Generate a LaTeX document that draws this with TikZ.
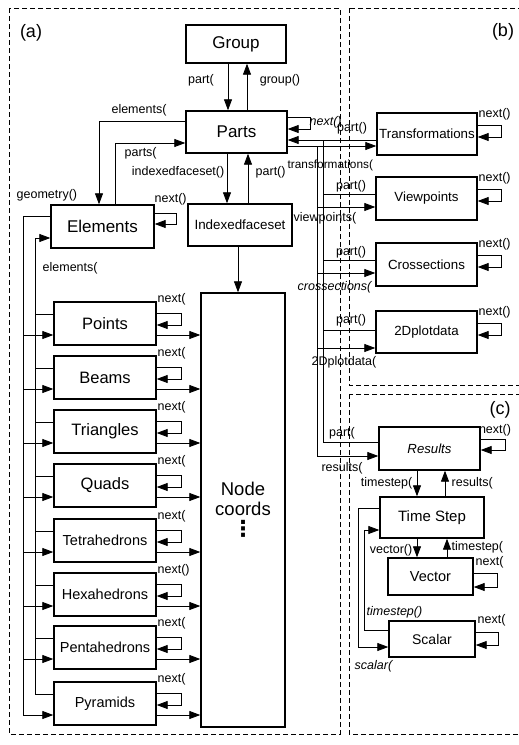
\documentclass[tikz,border=0pt]{standalone}
\usepackage{fontspec}
\setmainfont{Liberation Sans}
\newfontfamily\djv{DejaVu Sans}
\usetikzlibrary{arrows.meta}
\begin{document}
\begin{tikzpicture}[x=1pt,y=-1pt,
  box/.style={draw, line width=1.4pt, inner sep=0pt, align=center},
  ln/.style={line width=0.85pt},
  arr/.style={ln, -{Triangle[length=11pt,width=8pt]}},
  lbl/.style={font=\fontsize{12.5}{13}\selectfont, inner sep=0.5pt},
  ilbl/.style={lbl, font=\fontsize{12.5}{13}\selectfont\itshape},
  frame/.style={dash pattern=on 5pt off 3pt, line width=0.9pt},
  sec/.style={font=\fontsize{18}{18}\selectfont, inner sep=0pt}
]
\useasboundingbox (0,0) rectangle (519,745);
% frames
\draw[frame] (9,8) rectangle (340,734);
\draw[frame] (349,8) rectangle (523,385);
\draw[frame] (349,394) rectangle (523,734);
\node[sec] (la) at (31,33) {(a)};
\node[sec] (lb) at (503,32) {(b)};
\node[sec] (lc) at (500,410) {(c)};

% ---- section (a)
\node[box, minimum width=100pt, minimum height=38pt, font=\fontsize{17}{17}\selectfont] (group) at (236,44) {Group};
\node[box, minimum width=101pt, minimum height=42pt, font=\fontsize{17}{17}\selectfont] (parts) at (236.5,132) {Parts};
\node[box, minimum width=104pt, minimum height=42pt, font=\fontsize{13.4}{14}\selectfont] (idx) at (240,225) {Indexedfaceset};
\node[box, minimum width=103pt, minimum height=43pt, font=\fontsize{17}{17}\selectfont] (elements) at (102.5,226.5) {Elements};
\node[box, minimum width=84pt, minimum height=434pt, font=\fontsize{18.5}{20}\selectfont] (nodec) at (243,510) {Node\\coords\\[1pt]{\djv\bfseries\fontsize{22}{22}\selectfont ⋮}};

\draw[arr] (group.south -| 228,0) -- (parts.north -| 228,0);
\draw[arr] (parts.north -| 247,0) -- (group.south -| 247,0);
\node[lbl] (l-part1) at (201,80) {part(};
\node[lbl] (l-group) at (280,80) {group()};

\draw[arr] (parts.south -| 227,0) -- (idx.north -| 227,0);
\draw[arr] (idx.north -| 248,0) -- (parts.south -| 248,0);
\node[lbl, anchor=east] (l-ifs) at (225,172) {indexedfaceset()};
\node[lbl, anchor=west] (l-part2) at (255,172) {part()};
\draw[arr] (idx.south -| 238,0) -- (nodec.north -| 238,0);

\draw[arr] (parts.west |- 0,121) -| (elements.north -| 99,0);
\node[lbl] (l-elem1) at (139,110) {elements(};
\draw[arr] (elements.north -| 115,0) |- (parts.west |- 0,143);
\node[lbl, anchor=west] (l-parts) at (124,153) {parts(};

\draw[arr] (elements.east |- 0,213) -- ++(22,0) |- (elements.east |- 0,224);
\node[lbl, anchor=west] (l-enext) at (154,199) {next()};
\node[lbl, anchor=west] (l-geom) at (16,195) {geometry()};
\node[lbl, anchor=west] (l-elem2) at (42,268) {elements(};

% buses on the left
\draw[ln] (elements.west |- 0,216) -| (23,715);
\draw[arr] (35,694) |- (elements.west |- 0,238);

\foreach \nm/\tx/\ty/\lab/\fs in {
  points/Points/302/{next(}/16.5,
  beams/Beams/356/{next(}/16.5,
  triangles/Triangles/410/{next(}/16.5,
  quads/Quads/464/{next(}/16.5,
  tetra/Tetrahedrons/519/{next(}/14.5,
  hexa/Hexahedrons/573/{next()}/14.5,
  penta/Pentahedrons/626/{next(}/14.5,
  pyra/Pyramids/682/{next(}/14.5}{
  \node[box, minimum width=102pt, minimum height=43pt, font=\fontsize{\fs}{\fs}\selectfont] (\nm) at (105,\ty+21.5) {\tx};
  \draw[arr] (\nm.east |- 0,\ty+11) -- ++(25,0) |- (\nm.east |- 0,\ty+23);
  \node[lbl, anchor=west] (\nm-next) at (157,\ty-3) {\lab};
  \draw[arr] (\nm.east |- 0,\ty+33) -- (nodec.west |- 0,\ty+33);
  \draw[arr] (23,\ty+33) -- (\nm.west |- 0,\ty+33);
  \draw[ln] (\nm.west |- 0,\ty+12) -- (35,\ty+12);
}

% ---- section (b)
\node[box, minimum width=100pt, minimum height=42pt, font=\fontsize{13.3}{14}\selectfont] (trans) at (427,134) {Transformations};
\node[box, minimum width=101pt, minimum height=43pt, font=\fontsize{13.3}{14}\selectfont] (vp) at (426.5,198.5) {Viewpoints};
\node[box, minimum width=101pt, minimum height=43pt, font=\fontsize{13.3}{14}\selectfont] (cross) at (426.5,264.5) {Crossections};
\node[box, minimum width=101pt, minimum height=42pt, font=\fontsize{13.3}{14}\selectfont] (plot) at (426.5,332) {2Dplotdata};

\draw[arr] (parts.east |- 0,117) -- ++(23,0) |- (parts.east |- 0,129);
\node[lbl, anchor=west, font=\fontsize{12.5}{13}\selectfont\itshape] (l-pnext) at (309,122) {next()};
\draw[arr] (trans.west |- 0,140) -- (parts.east |- 0,140);
\draw[arr] (parts.east |- 0,146) -- (trans.west |- 0,146);
\draw[ln] (317,146) -- (317,456);
\draw[ln] (323,140) -- (323,442);
\node[lbl] (l-tpart) at (352,128) {part()};
\node[lbl, anchor=west, font=\fontsize{11.8}{12}\selectfont] (l-trans) at (287,165) {transformations(};

\draw[ln] (vp.west |- 0,194) -- (323,194);
\draw[arr] (317,207) -- (vp.west |- 0,207);
\node[lbl] (l-vpart) at (351,186) {part()};
\node[lbl, anchor=west] (l-vp) at (293,218) {viewpoints(};

\draw[ln] (cross.west |- 0,260) -- (323,260);
\draw[arr] (317,273) -- (cross.west |- 0,273);
\node[lbl] (l-cpart) at (351,252) {part()};
\node[ilbl, anchor=west] (l-cross) at (297,287) {crossections(};

\draw[ln] (plot.west |- 0,330) -- (323,330);
\draw[arr] (317,348) -- (plot.west |- 0,348);
\node[lbl] (l-dpart) at (351,320) {part()};
\node[lbl, anchor=west] (l-plot) at (311,362) {2Dplotdata(};

\foreach \nm/\ty in {trans/113, vp/177, cross/243, plot/311}{
  \draw[arr] (\nm.east |- 0,\ty+12) -- ++(24,0) |- (\nm.east |- 0,\ty+24);
  \node[lbl, anchor=west] (\nm-next) at (478,\ty+1) {next()};
}

% ---- section (c)
\node[box, minimum width=101pt, minimum height=43pt, font=\fontsize{13.2}{14}\selectfont\itshape] (results) at (429.5,448.5) {Results};
\node[box, minimum width=104pt, minimum height=41pt, font=\fontsize{15}{15}\selectfont] (ts) at (432,517.5) {Time Step};
\node[box, minimum width=85pt, minimum height=37pt, font=\fontsize{14.5}{15}\selectfont] (vec) at (430.5,576.5) {Vector};
\node[box, minimum width=86pt, minimum height=36pt, font=\fontsize{14}{15}\selectfont] (sc) at (432,639) {Scalar};

\draw[ln] (results.west |- 0,442) -- (323,442);
\draw[arr] (317,456) -- (results.west |- 0,456);
\node[lbl] (l-rpart) at (342,433) {part(};
\node[lbl] (l-res) at (342,468) {results(};

\draw[arr] (results.east |- 0,439) -- ++(25,0) |- (results.east |- 0,450);
\node[lbl] (l-rnext) at (495,430) {next()};

\draw[arr] (results.south -| 417,0) -- (ts.north -| 417,0);
\draw[arr] (ts.north -| 445,0) -- (results.south -| 445,0);
\node[lbl, anchor=east] (l-ts1) at (413,483) {timestep(};
\node[lbl, anchor=west] (l-res2) at (451,483) {results(};

\draw[arr] (ts.south -| 417,0) -- (vec.north -| 417,0);
\draw[arr] (vec.north -| 447,0) -- (ts.south -| 447,0);
\node[lbl, anchor=east] (l-vec) at (413,550) {vector()};
\node[lbl, anchor=west] (l-ts2) at (451,547) {timestep(};

\draw[arr] (vec.east |- 0,573) -- ++(24,0) |- (vec.east |- 0,587);
\node[lbl, anchor=west] (l-vnext) at (475,562) {next(};

\draw[arr] (sc.east |- 0,632) -- ++(23,0) |- (sc.east |- 0,645);
\node[lbl, anchor=west] (l-snext) at (477,620) {next(};

\draw[arr] (ts.west |- 0,508) -| (358,647) -- (sc.west |- 0,647);
\draw[arr] (sc.west |- 0,630) -| (364,530) -- (ts.west |- 0,530);
\node[ilbl, anchor=west] (l-ts3) at (366,612) {timestep()};
\node[ilbl, anchor=west] (l-sc) at (354,666) {scalar(};
\end{tikzpicture}
\end{document}
